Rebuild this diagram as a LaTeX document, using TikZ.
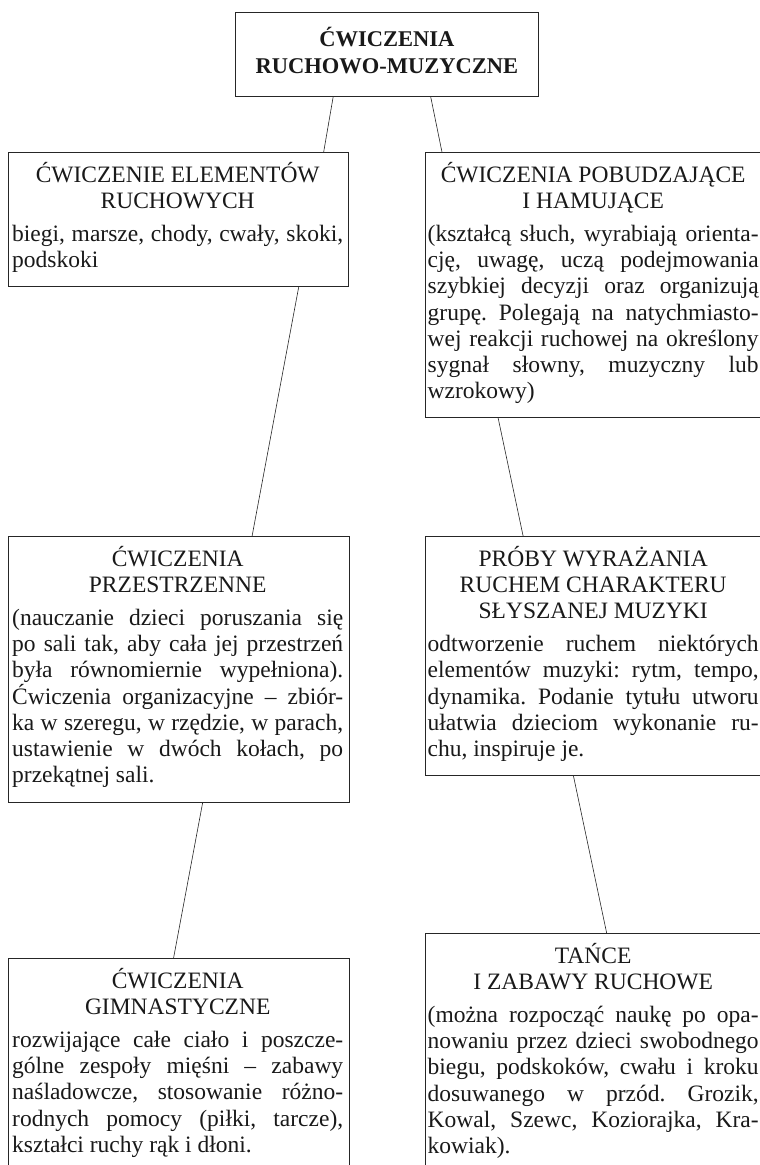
\documentclass[tikz,border=0pt]{standalone}
\usepackage{fontspec}
\setmainfont{Liberation Serif}
\usetikzlibrary{calc}
\frenchspacing
\newcommand\jl[1]{\hbox to\hsize{#1}}
\newcommand\lastl[1]{\hbox to\hsize{#1\hfil}}
\newcommand\ctl[1]{\hbox to\hsize{\hfil#1\hfil}}
\newcommand\gap{\vskip 6.5pt}
\tikzset{
  box/.style={draw=black!85, line width=0.9pt, rectangle, inner sep=0pt, anchor=north west, fill=white},
  link/.style={draw=black!85, line width=0.6pt},
  txt/.style={inner sep=0pt, anchor=base west, text=black!90,
    font=\fontsize{23.5pt}{26.3pt}\selectfont},
  ttl/.style={inner sep=0pt, anchor=base, text=black!90,
    font=\fontsize{22.5pt}{26.7pt}\selectfont\bfseries},
}
\begin{document}
\begin{tikzpicture}[x=1pt,y=-1pt]
\path[use as bounding box] (0,0) rectangle (760,1165);
\clip (0,0) rectangle (760,1165);
\fill[white] (0,0) rectangle (760,1165);

% boxes
\node[box, minimum width=303pt, minimum height=84.3pt] (T) at (235,11.7) {};
\node[box, minimum width=340pt, minimum height=133.7pt] (L1) at (8,152) {};
\node[box, minimum width=341.5pt, minimum height=265pt] (R1) at (424.5,152) {};
\node[box, minimum width=340.5pt, minimum height=266pt] (L2) at (8,536) {};
\node[box, minimum width=341.5pt, minimum height=239pt] (R2) at (424.5,536) {};
\node[box, minimum width=340.5pt, minimum height=260pt] (L3) at (8,958) {};
\node[box, minimum width=341.5pt, minimum height=260pt] (R3) at (424.5,933) {};

% connectors
\draw[link] ($(T.south west)!0.323!(T.south east)$) -- ($(L1.north west)!0.926!(L1.north east)$);
\draw[link] ($(T.south west)!0.644!(T.south east)$) -- ($(R1.north west)!0.051!(R1.north east)$);
\draw[link] ($(L1.south west)!0.853!(L1.south east)$) -- ($(L2.north west)!0.715!(L2.north east)$);
\draw[link] ($(R1.south west)!0.215!(R1.south east)$) -- ($(R2.north west)!0.288!(R2.north east)$);
\draw[link] ($(L2.south west)!0.570!(L2.south east)$) -- ($(L3.north west)!0.485!(L3.north east)$);
\draw[link] ($(R2.south west)!0.435!(R2.south east)$) -- ($(R3.north west)!0.532!(R3.north east)$);

% texts
\node[ttl] (Tt) at ([yshift=-35pt]T.north) {\vtop{\hsize=300pt\lineskiplimit=-20pt
  \ctl{ĆWICZENIA}
  \ctl{RUCHOWO-MUZYCZNE}}};

\node[txt] (L1t) at ([xshift=4pt,yshift=-30pt]L1.north west) {\vtop{\hsize=331pt\lineskiplimit=-20pt
  \ctl{ĆWICZENIE ELEMENTÓW}
  \ctl{RUCHOWYCH}\gap
  \jl{biegi, marsze, chody, cwały, skoki,}
  \lastl{podskoki}}};

\node[txt] (R1t) at ([xshift=3pt,yshift=-30pt]R1.north west) {\vtop{\hsize=331pt\lineskiplimit=-20pt
  \ctl{ĆWICZENIA POBUDZAJĄCE}
  \ctl{I HAMUJĄCE}\gap
  \jl{(kształcą słuch, wyrabiają orienta-}
  \jl{cję, uwagę, uczą podejmowania}
  \jl{szybkiej decyzji oraz organizują}
  \jl{grupę. Polegają na natychmiasto-}
  \jl{wej reakcji ruchowej na określony}
  \jl{sygnał słowny, muzyczny lub}
  \lastl{wzrokowy)}}};

\node[txt] (L2t) at ([xshift=4pt,yshift=-30pt]L2.north west) {\vtop{\hsize=331pt\lineskiplimit=-20pt
  \ctl{ĆWICZENIA}
  \ctl{PRZESTRZENNE}\gap
  \jl{(nauczanie dzieci poruszania się}
  \jl{po sali tak, aby cała jej przestrzeń}
  \jl{była równomiernie wypełniona).}
  \jl{Ćwiczenia organizacyjne – zbiór-}
  \jl{ka w szeregu, w rzędzie, w parach,}
  \jl{ustawienie w dwóch kołach, po}
  \lastl{przekątnej sali.}}};

\node[txt] (R2t) at ([xshift=3pt,yshift=-30pt]R2.north west) {\vtop{\hsize=331pt\lineskiplimit=-20pt
  \ctl{PRÓBY WYRAŻANIA}
  \ctl{RUCHEM CHARAKTERU}
  \ctl{SŁYSZANEJ MUZYKI}\gap
  \jl{odtworzenie ruchem niektórych}
  \jl{elementów muzyki: rytm, tempo,}
  \jl{dynamika. Podanie tytułu utworu}
  \jl{ułatwia dzieciom wykonanie ru-}
  \lastl{chu, inspiruje je.}}};

\node[txt] (L3t) at ([xshift=4pt,yshift=-30pt]L3.north west) {\vtop{\hsize=331pt\lineskiplimit=-20pt
  \ctl{ĆWICZENIA}
  \ctl{GIMNASTYCZNE}\gap
  \jl{rozwijające całe ciało i poszcze-}
  \jl{gólne zespoły mięśni – zabawy}
  \jl{naśladowcze, stosowanie różno-}
  \jl{rodnych pomocy (piłki, tarcze),}
  \lastl{kształci ruchy rąk i dłoni.}}};

\node[txt] (R3t) at ([xshift=3pt,yshift=-30pt]R3.north west) {\vtop{\hsize=331pt\lineskiplimit=-20pt
  \ctl{TAŃCE}
  \ctl{I ZABAWY RUCHOWE}\gap
  \jl{(można rozpocząć naukę po opa-}
  \jl{nowaniu przez dzieci swobodnego}
  \jl{biegu, podskoków, cwału i kroku}
  \jl{dosuwanego w przód. Grozik,}
  \jl{Kowal, Szewc, Koziorajka, Kra-}
  \lastl{kowiak).}}};
\end{tikzpicture}
\end{document}
